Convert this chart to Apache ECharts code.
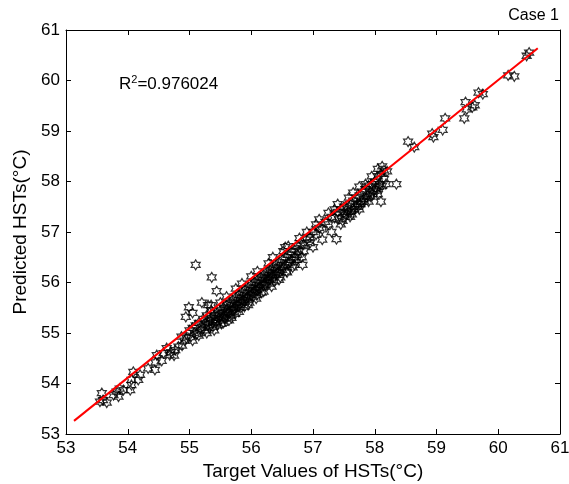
<!DOCTYPE html>
<html><head><meta charset="utf-8">
<script src="https://cdn.jsdelivr.net/npm/echarts@6/dist/echarts.min.js"></script>
<style>html,body{margin:0;padding:0;background:#fff}#c{width:569px;height:484px}</style>
</head><body><div id="c"></div>
<script>
var axisTicks = [53, 54, 55, 56, 57, 58, 59, 60, 61];
var targets = [
53.58,53.60,53.66,53.55,53.77,53.82,53.87,53.85,53.93,54.04,54.06,54.06,54.09,54.20,54.17,54.33,54.44,54.47,54.58,54.63,54.68,54.77,54.82,54.87,54.95,
54.99,54.94,55.10,55.36,55.44,55.20,55.05,55.30,
55.00,55.02,55.05,55.08,55.10,55.12,55.15,55.18,55.20,55.22,55.25,55.25,55.28,55.30,55.32,55.35,55.35,55.38,55.40,55.42,55.45,55.45,55.48,55.50,55.50,55.52,
55.55,55.55,55.58,55.60,55.60,55.62,55.65,55.65,55.68,55.70,55.70,55.72,55.75,55.75,55.78,55.80,55.80,55.82,55.85,55.85,55.88,55.90,55.90,55.92,55.95,55.95,55.98,
56.00,56.00,56.02,56.05,56.05,56.08,56.10,56.10,56.12,56.15,56.15,56.18,56.20,56.20,56.22,56.25,56.25,56.28,56.30,56.30,56.32,56.35,56.35,56.38,56.40,56.40,56.42,56.45,56.45,56.48,
56.50,56.50,56.55,56.55,56.60,56.60,56.65,56.65,56.70,56.70,56.75,56.75,56.80,56.85,56.85,56.90,56.95,56.95,
57.00,57.05,57.10,57.15,57.20,57.25,57.30,57.35,57.40,57.42,57.45,57.50,57.50,57.55,57.55,57.60,57.62,57.65,57.68,57.70,57.72,57.75,57.78,57.80,57.82,57.85,57.88,57.90,57.92,57.95,57.98,
58.00,58.02,58.05,58.08,58.10,58.15,58.20,
56.83,57.38,56.55,57.25,57.75,58.05,58.15,58.10,58.35,
55.05,55.15,55.28,55.40,55.55,55.68,55.80,55.95,56.08,56.20,56.33,56.45,56.58,56.70,56.82,57.00,57.15,57.30,57.45,57.60,57.75,57.90,58.05,58.18,
55.35,55.60,55.85,56.10,56.35,56.60,56.90,57.10,57.40,57.65,57.95,58.12,
55.50,55.75,56.00,56.28,56.52,56.78,57.05,57.35,57.58,57.85,
55.30,55.33,55.38,55.43,55.47,55.52,55.57,55.62,55.64,55.67,55.72,55.74,55.77,55.83,55.87,55.89,55.93,55.97,
56.03,56.07,56.09,56.13,56.17,56.23,56.27,56.29,56.34,56.37,56.43,56.47,56.53,56.57,56.63,56.67,56.73,56.77,
57.48,57.52,57.57,57.63,57.67,57.73,57.77,57.83,57.87,57.93,57.97,58.03,58.07,58.12,
54.70,54.75,54.88,54.92,54.55,54.45,
58.54,58.64,58.93,58.95,59.10,59.14,59.45,59.49,59.58,59.62,59.47,59.68,59.75,60.16,60.26,60.46,60.50
];
var predicted = [
53.81,53.67,53.62,53.64,53.77,53.84,53.90,53.74,53.87,53.87,53.97,54.07,54.23,54.17,54.07,54.30,54.27,54.56,54.60,54.70,54.56,54.66,54.73,54.93,54.90,
55.51,55.32,56.35,56.10,55.83,55.60,55.40,55.55,
55.05,54.92,55.10,55.00,55.15,54.98,55.20,55.05,55.12,55.28,55.18,55.05,55.35,55.22,55.10,55.30,55.45,55.20,55.35,55.28,55.40,55.15,55.30,55.45,55.25,55.38,
55.50,55.32,55.42,55.55,55.35,55.48,55.58,55.40,55.52,55.65,55.45,55.58,55.70,55.50,55.62,55.75,55.55,55.68,55.80,55.60,55.72,55.85,55.62,55.78,55.90,55.70,55.82,
55.95,55.75,55.88,56.00,55.80,55.92,56.05,55.85,55.98,56.10,55.90,56.02,56.15,55.95,56.08,56.20,56.00,56.12,56.25,56.05,56.18,56.30,56.10,56.22,56.35,56.15,56.28,56.40,56.20,56.32,
56.45,56.25,56.50,56.35,56.55,56.38,56.60,56.45,56.65,56.50,56.72,56.55,56.78,56.75,56.62,56.85,56.90,56.78,
57.00,56.95,57.08,57.05,57.20,57.15,57.30,57.28,57.40,57.25,57.45,57.38,57.50,57.48,57.35,57.55,57.42,57.62,57.50,57.68,57.55,57.72,57.60,57.80,57.65,57.85,57.72,57.92,57.78,57.95,57.82,
58.00,57.88,58.10,57.95,58.15,58.05,58.20,
56.35,56.86,56.70,57.38,57.90,58.25,58.22,57.60,57.95,
54.85,54.95,55.00,55.05,55.20,55.30,55.42,55.55,55.68,55.82,55.92,56.05,56.20,56.35,56.50,56.70,56.85,57.00,57.15,57.30,57.45,57.60,57.75,57.95,
55.55,55.72,55.98,56.22,56.50,56.72,57.00,57.25,57.55,57.78,58.10,58.30,
55.60,55.88,56.12,56.38,56.62,56.88,57.15,57.45,57.68,57.95,
55.15,55.25,55.12,55.22,55.35,55.18,55.28,55.42,55.25,55.35,55.48,55.38,55.55,55.50,55.65,55.52,55.68,55.60,
55.72,55.85,55.75,55.88,55.80,55.95,56.08,55.98,56.15,56.02,56.18,56.10,56.30,56.22,56.40,56.30,56.45,56.62,
57.22,57.30,57.40,57.35,57.45,57.50,57.55,57.60,57.68,57.70,57.75,57.82,57.90,57.92,
54.62,54.55,54.75,54.85,54.45,54.42,
58.79,58.68,58.95,58.88,59.02,59.25,59.25,59.43,59.47,59.51,59.57,59.76,59.73,60.10,60.08,60.49,60.55
];
var fitX = [53.13, 60.64];
var fitY = [53.26, 60.64];

var hexPath = 'path://M0,-100 L28.87,-50 L86.6,-50 L57.74,0 L86.6,50 L28.87,50 L0,100 L-28.87,50 L-86.6,50 L-57.74,0 L-86.6,-50 L-28.87,-50 Z';
var pts = targets.map(function (x, i) { return [x, predicted[i]]; });
var fitPts = fitX.map(function (x, i) { return [x, fitY[i]]; });
var FONT = '"Liberation Sans", Arial, sans-serif';
var chart = echarts.init(document.getElementById('c'), null, {renderer: 'canvas'});
function mkX(pos, show) {
  return {type: 'value', position: pos, min: 53, max: 61, interval: 1,
    name: show ? 'Target Values of HSTs(\u00B0C)' : '', nameLocation: 'middle', nameGap: 27,
    nameTextStyle: {fontFamily: FONT, fontSize: 19, color: '#000'},
    axisLine: {show: true, onZero: false, lineStyle: {color: '#000', width: 1}},
    axisTick: {show: true, inside: true, length: 5, lineStyle: {color: '#000'}},
    axisLabel: {show: show, margin: 6, fontFamily: FONT, fontSize: 17, color: '#000'},
    splitLine: {show: false}};
}
function mkY(pos, show) {
  return {type: 'value', position: pos, min: 53, max: 61, interval: 1,
    name: show ? 'Predicted HSTs(\u00B0C)' : '', nameLocation: 'middle', nameGap: 34, nameRotate: 90,
    nameTextStyle: {fontFamily: FONT, fontSize: 19, color: '#000'},
    axisLine: {show: true, onZero: false, lineStyle: {color: '#000', width: 1}},
    axisTick: {show: true, inside: true, length: 5, lineStyle: {color: '#000'}},
    axisLabel: {show: show, margin: 6, fontFamily: FONT, fontSize: 17, color: '#000'},
    splitLine: {show: false}};
}
chart.setOption({
  animation: false,
  backgroundColor: '#fff',
  grid: {left: 66, right: 9, top: 30, bottom: 50, containLabel: false, outerBoundsMode: 'none'},
  xAxis: [mkX('bottom', true), mkX('top', false)],
  yAxis: [mkY('left', true), mkY('right', false)],
  graphic: [
    {type: 'text', right: 10, top: 8, style: {text: 'Case 1', font: '16px ' + FONT, fill: '#000'}},
    {type: 'text', left: 119, top: 74, style: {text: 'R{s|2}=0.976024', font: '17px ' + FONT, fill: '#000',
      rich: {s: {fontSize: 11, fontFamily: FONT, verticalAlign: 'top', padding: [0, 0, 9, 0]}}}}
  ],
  series: [
    {type: 'scatter', xAxisIndex: 0, yAxisIndex: 0, data: pts, symbol: hexPath, symbolSize: [9, 10],
      itemStyle: {color: 'rgba(0,0,0,0)', borderColor: '#000', borderWidth: 1.2}, z: 2},
    {type: 'line', xAxisIndex: 0, yAxisIndex: 0, data: fitPts, showSymbol: false, symbol: 'none',
      lineStyle: {color: '#ff0000', width: 2}, z: 3}
  ]
});
</script></body></html>
